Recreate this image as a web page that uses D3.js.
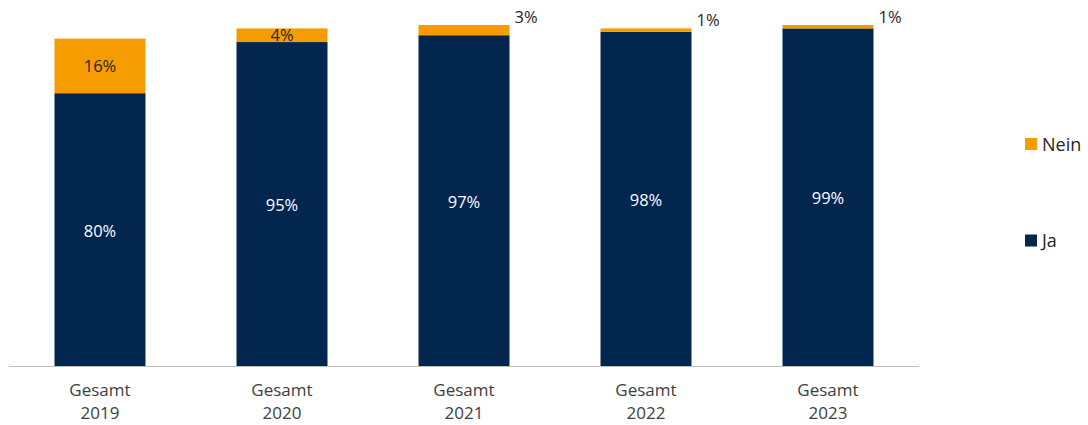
<!DOCTYPE html>
<html><head><meta charset="utf-8">
<script src="https://cdn.jsdelivr.net/npm/d3@7"></script>
<style>body{margin:0;background:#fff;}svg{display:block;font-family:"Open Sans","Noto Sans",sans-serif;}</style>
</head><body><svg id="c" width="1088" height="425"></svg>
<script>
const categories = ["Gesamt 2019","Gesamt 2020","Gesamt 2021","Gesamt 2022","Gesamt 2023"];
const ja = [80,95,97,98,99];
const nein = [16,4,3,1,1];
const seriesNames = ["Ja","Nein"];
const colors = {Ja:"#03264f", Nein:"#f59c00"};
// label placement: inside for large segments, outside-right for small
const neinLabelOutside = [false,false,true,true,true];

const rows = categories.map((c,i)=>({cat:c, Ja:ja[i], Nein:nein[i], out:neinLabelOutside[i]}));
const svg = d3.select("#c");
const x = d3.scaleBand().domain(categories).range([9,919]).paddingInner(0.5).paddingOuter(0.25);
const y = d3.scaleLinear().domain([0,100]).range([366,25]);
const stack = d3.stack().keys(seriesNames)(rows);

const g = svg.append("g");
g.selectAll("g.s").data(stack).join("g").attr("fill",d=>colors[d.key])
 .selectAll("rect").data(d=>d).join("rect")
 .attr("x",d=>x(d.data.cat)).attr("width",x.bandwidth())
 .attr("y",d=>y(d[1])).attr("height",d=>y(d[0])-y(d[1]));

// axis line
svg.append("line").attr("x1",9).attr("x2",919).attr("y1",y(0)+0.5).attr("y2",y(0)+0.5)
 .attr("stroke","#bfbfbf").attr("stroke-width",1);

// category labels (two lines)
const lab = svg.append("g").attr("font-size",17).attr("fill","#404040").attr("text-anchor","middle");
categories.forEach(c=>{
  const parts = c.split(" ");
  const cx = x(c)+x.bandwidth()/2;
  const t = lab.append("text").attr("x",cx).attr("y",396);
  t.append("tspan").attr("x",cx).text(parts[0]);
  t.append("tspan").attr("x",cx).attr("dy",23).text(parts[1]);
});

// Ja labels
const jaS = stack[0], neinS = stack[1];
svg.append("g").selectAll("text").data(jaS).join("text")
 .attr("x",d=>x(d.data.cat)+x.bandwidth()/2).attr("y",d=>(y(d[0])+y(d[1]))/2+7)
 .attr("text-anchor","middle").attr("font-size",16.5).attr("fill","#ffffff")
 .text(d=>d.data.Ja+"%");

// Nein labels
svg.append("g").selectAll("text").data(neinS).join("text")
 .attr("x",d=>d.data.out ? x(d.data.cat)+x.bandwidth()+5 : x(d.data.cat)+x.bandwidth()/2)
 .attr("y",d=>d.data.out ? y(d[1])-2 : (y(d[0])+y(d[1]))/2+6)
 .attr("text-anchor",d=>d.data.out?"start":"middle")
 .attr("font-size",16.5).attr("fill","#262626")
 .text(d=>d.data.Nein+"%");

// legend
const legend = [{k:"Nein",y:144},{k:"Ja",y:240.5}];
const lg = svg.append("g");
legend.forEach(l=>{
  lg.append("rect").attr("x",1025).attr("y",l.y-6).attr("width",12).attr("height",12).attr("fill",colors[l.k]);
  lg.append("text").attr("x",1042).attr("y",l.y+6.5).attr("font-size",18).attr("fill","#262626").text(l.k);
});
</script></body></html>
